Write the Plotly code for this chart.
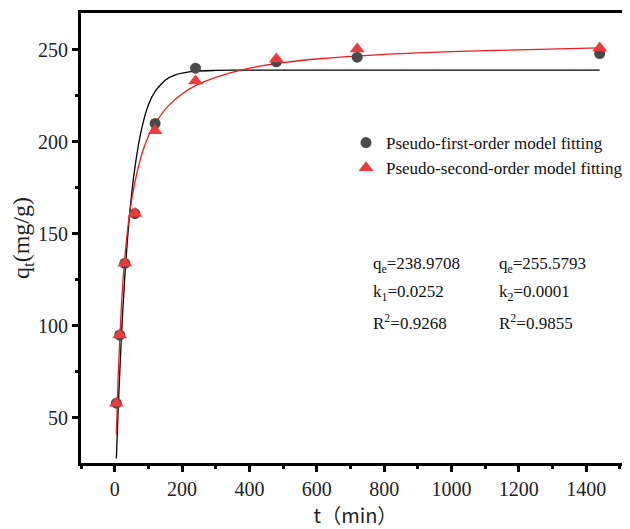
import plotly.graph_objects as go

t_data = [5, 15, 30, 60, 120, 240, 480, 720, 1440]
q_first = [58, 95, 134, 161, 210, 240, 243.5, 246, 248]
q_second = [58, 95, 134, 161, 206, 233, 245, 250.5, 251]

# Fitted curves
t_fit1 = [5, 10, 20, 30, 45, 60, 80, 100, 120, 150, 180, 240, 300, 400, 800, 1440]
q_fit1 = [28, 53, 94.5, 126.5, 162, 186, 207, 220, 227.4, 233.5, 236.4, 238.4, 238.8, 239, 239, 239]
t_fit2 = [5, 10, 20, 30, 45, 60, 80, 100, 120, 160, 200, 240, 300, 400, 500, 600, 800, 1000, 1200, 1440]
q_fit2 = [41, 71, 111, 137, 162, 178, 193, 203, 210, 219.7, 226, 230.5, 235, 240, 243, 245, 247.5, 249, 250, 251]

x_ticks = [0, 200, 400, 600, 800, 1000, 1200, 1400]
y_ticks = [50, 100, 150, 200, 250]

serif = "Liberation Serif, Times New Roman, serif"

fig = go.Figure()
fig.add_trace(go.Scatter(x=t_fit1, y=q_fit1, mode="lines", line=dict(color="black", width=1.3, shape="spline", smoothing=0.6), showlegend=False))
fig.add_trace(go.Scatter(x=t_fit2, y=q_fit2, mode="lines", line=dict(color="#ee1c1c", width=1.3, shape="spline", smoothing=0.6), showlegend=False))
fig.add_trace(go.Scatter(x=t_data, y=q_first, mode="markers", name="Pseudo-first-order model fitting",
                         marker=dict(symbol="circle", size=11, color="#4a4a4a")))
fig.add_trace(go.Scatter(x=t_data, y=q_second, mode="markers", name="Pseudo-second-order model fitting",
                         marker=dict(symbol="triangle-up", size=13, color="#f03a3a")))

# page body has an 8px margin; all pixel positions below are page coordinates
OFF = 8
W, H = 630 - OFF, 529 - OFF
L, T, B = 81 - OFF, 13 - OFF, 66
pw, ph = W - L, H - T - B
plot_bottom_page = 529 - B

ann_font = dict(family=serif, size=17, color="#111")
anns = [
    (371, 265, "q<sub>e</sub>=238.9708"), (371, 293, "k<sub>1</sub>=0.0252"), (371, 322, "R<sup>2</sup>=0.9268"),
    (497, 265, "q<sub>e</sub>=255.5793"), (497, 293, "k<sub>2</sub>=0.0001"), (497, 322, "R<sup>2</sup>=0.9855"),
]
annotations = []
for px, py, txt in anns:
    annotations.append(dict(x=(px - 81) / pw, y=(plot_bottom_page - py) / ph, xref="paper", yref="paper",
                            text=txt, showarrow=False, xanchor="left", yanchor="middle", font=ann_font))

fig.update_layout(
    width=W, height=H,
    margin=dict(l=L, r=0, t=T, b=B, autoexpand=False),
    paper_bgcolor="white", plot_bgcolor="white",
    showlegend=True,
    legend=dict(x=(346 - 81) / pw, y=(plot_bottom_page - 125) / ph, xanchor="left", yanchor="top",
                font=dict(family=serif, size=17, color="#111"), bgcolor="rgba(0,0,0,0)",
                tracegroupgap=0, itemwidth=30),
    annotations=annotations,
    xaxis=dict(range=[-100, 1530], tickvals=x_ticks, ticktext=[str(v) for v in x_ticks],
               automargin=False,
               showgrid=False, zeroline=False, showline=True, linecolor="black", linewidth=3,
               mirror=True, ticks="outside", ticklen=6, tickwidth=2.5, tickcolor="black",
               minor=dict(dtick=100, tick0=0, ticks="outside", ticklen=3, tickwidth=2.5, tickcolor="black"),
               tickfont=dict(family=serif, size=20, color="#222"),
               title=dict(text="\u00a0t（min）", font=dict(family="Noto Sans CJK SC", size=20, color="#222"), standoff=8)),
    yaxis=dict(range=[25.5, 270], tickvals=y_ticks, ticktext=[str(v) for v in y_ticks],
               automargin=False,
               showgrid=False, zeroline=False, showline=True, linecolor="black", linewidth=3,
               ticks="outside", ticklen=6, tickwidth=2.5, tickcolor="black",
               minor=dict(dtick=25, tick0=0, ticks="outside", ticklen=3, tickwidth=2.5, tickcolor="black"),
               tickfont=dict(family=serif, size=20, color="#222"),
               title=dict(text="q<sub>t</sub>(mg/g)", font=dict(family=serif, size=24, color="#222"), standoff=6)),
)

fig.write_html("out.html")
